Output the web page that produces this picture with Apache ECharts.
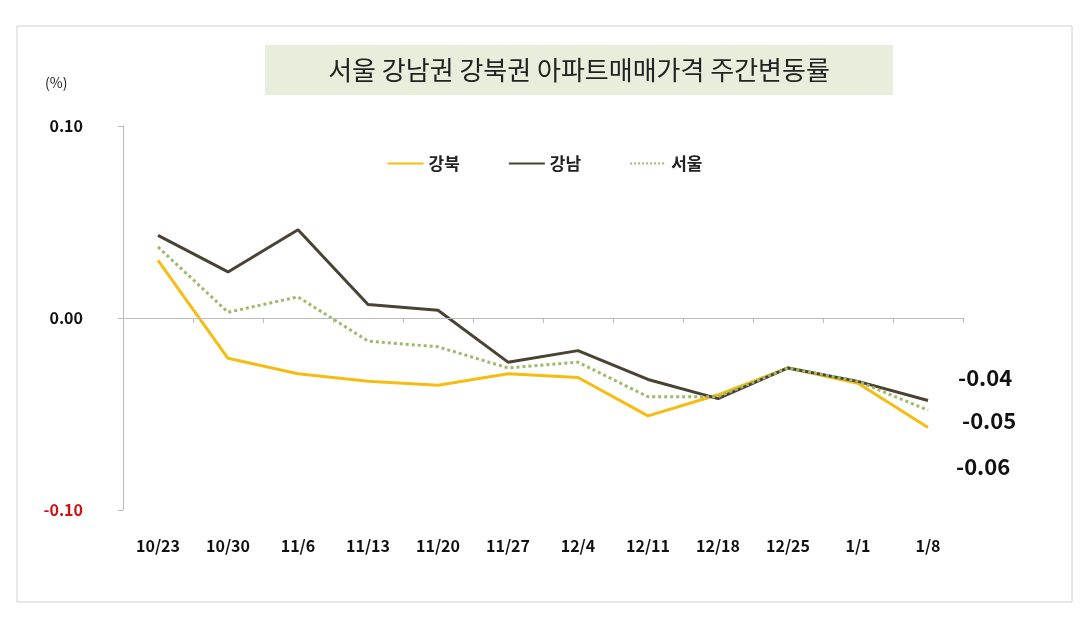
<!DOCTYPE html>
<html><head><meta charset="utf-8">
<script src="https://cdn.jsdelivr.net/npm/echarts@6/dist/echarts.min.js"></script>
<style>html,body{margin:0;padding:0;background:#fff}#c{width:1089px;height:619px}</style>
</head><body><div id="c"></div>
<script>
const categories=['10/23','10/30','11/6','11/13','11/20','11/27','12/4','12/11','12/18','12/25','1/1','1/8'];
const gangbuk=[0.030,-0.021,-0.029,-0.033,-0.035,-0.029,-0.031,-0.051,-0.040,-0.026,-0.034,-0.057];
const gangnam=[0.043,0.024,0.046,0.007,0.004,-0.023,-0.017,-0.032,-0.042,-0.026,-0.033,-0.043];
const seoul=[0.037,0.003,0.011,-0.012,-0.015,-0.026,-0.023,-0.041,-0.041,-0.026,-0.033,-0.048];
const endLabels=['-0.04','-0.05','-0.06'];
const F='"Malgun Gothic","Noto Sans CJK KR",sans-serif';
const chart=echarts.init(document.getElementById('c'));
chart.setOption({
 animation:false,
 graphic:[
  {type:'rect',shape:{x:17,y:26,width:1055,height:576},style:{fill:'none',stroke:'#d0d0d0',lineWidth:1}},
  {type:'rect',shape:{x:265,y:45,width:628,height:50},style:{fill:'#e8eddc'}},
  {type:'text',x:579,y:70,style:{text:'서울 강남권 강북권 아파트매매가격 주간변동률',font:'26px '+F,fill:'#222',textAlign:'center',textVerticalAlign:'middle'}},
  {type:'text',x:45,y:76,style:{text:'(%)',font:'14px '+F,fill:'#222'}},
  {type:'text',x:958,y:378,style:{text:endLabels[0],font:'bold 22px '+F,fill:'#111',textVerticalAlign:'middle'}},
  {type:'text',x:962,y:421,style:{text:endLabels[1],font:'bold 22px '+F,fill:'#111',textVerticalAlign:'middle'}},
  {type:'text',x:956,y:467,style:{text:endLabels[2],font:'bold 22px '+F,fill:'#111',textVerticalAlign:'middle'}}
 ],
 legend:{top:150,left:'center',itemGap:48,itemWidth:36,itemStyle:{opacity:0},
  textStyle:{fontFamily:F,fontSize:17,fontWeight:'bold',color:'#222'},
  data:['강북','강남','서울']},
 grid:{left:123,right:126,top:126,bottom:109},
 xAxis:{type:'category',data:categories,boundaryGap:true,axisLine:{lineStyle:{color:'#bbb'}},axisTick:{show:true,lineStyle:{color:'#bbb'}},
  axisLabel:{fontFamily:F,fontSize:16,fontWeight:'bold',color:'#111',margin:28}},
 yAxis:{type:'value',min:-0.1,max:0.1,interval:0.1,splitLine:{show:false},
  axisLine:{show:true,lineStyle:{color:'#bbb'}},axisTick:{show:true,lineStyle:{color:'#bbb'}},
  axisLabel:{fontFamily:F,fontSize:16,fontWeight:'bold',margin:40,formatter:v=>v.toFixed(2),color:v=>v<0?'#d01010':'#111'}},
 series:[
  {name:'강북',type:'line',data:gangbuk,symbol:'none',lineStyle:{color:'#f5bd12',width:3},itemStyle:{color:'#f5bd12'},
   markLine:{silent:true,symbol:'none',label:{show:false},lineStyle:{color:'#bbb',width:1,type:'solid'},data:[{yAxis:0}]}},
  {name:'강남',type:'line',data:gangnam,symbol:'none',lineStyle:{color:'#4a4232',width:3},itemStyle:{color:'#4a4232'}},
  {name:'서울',type:'line',data:seoul,symbol:'none',lineStyle:{color:'#9cba6a',width:3,type:'dotted'},itemStyle:{color:'#9cba6a'}}
 ]
});
</script></body></html>
